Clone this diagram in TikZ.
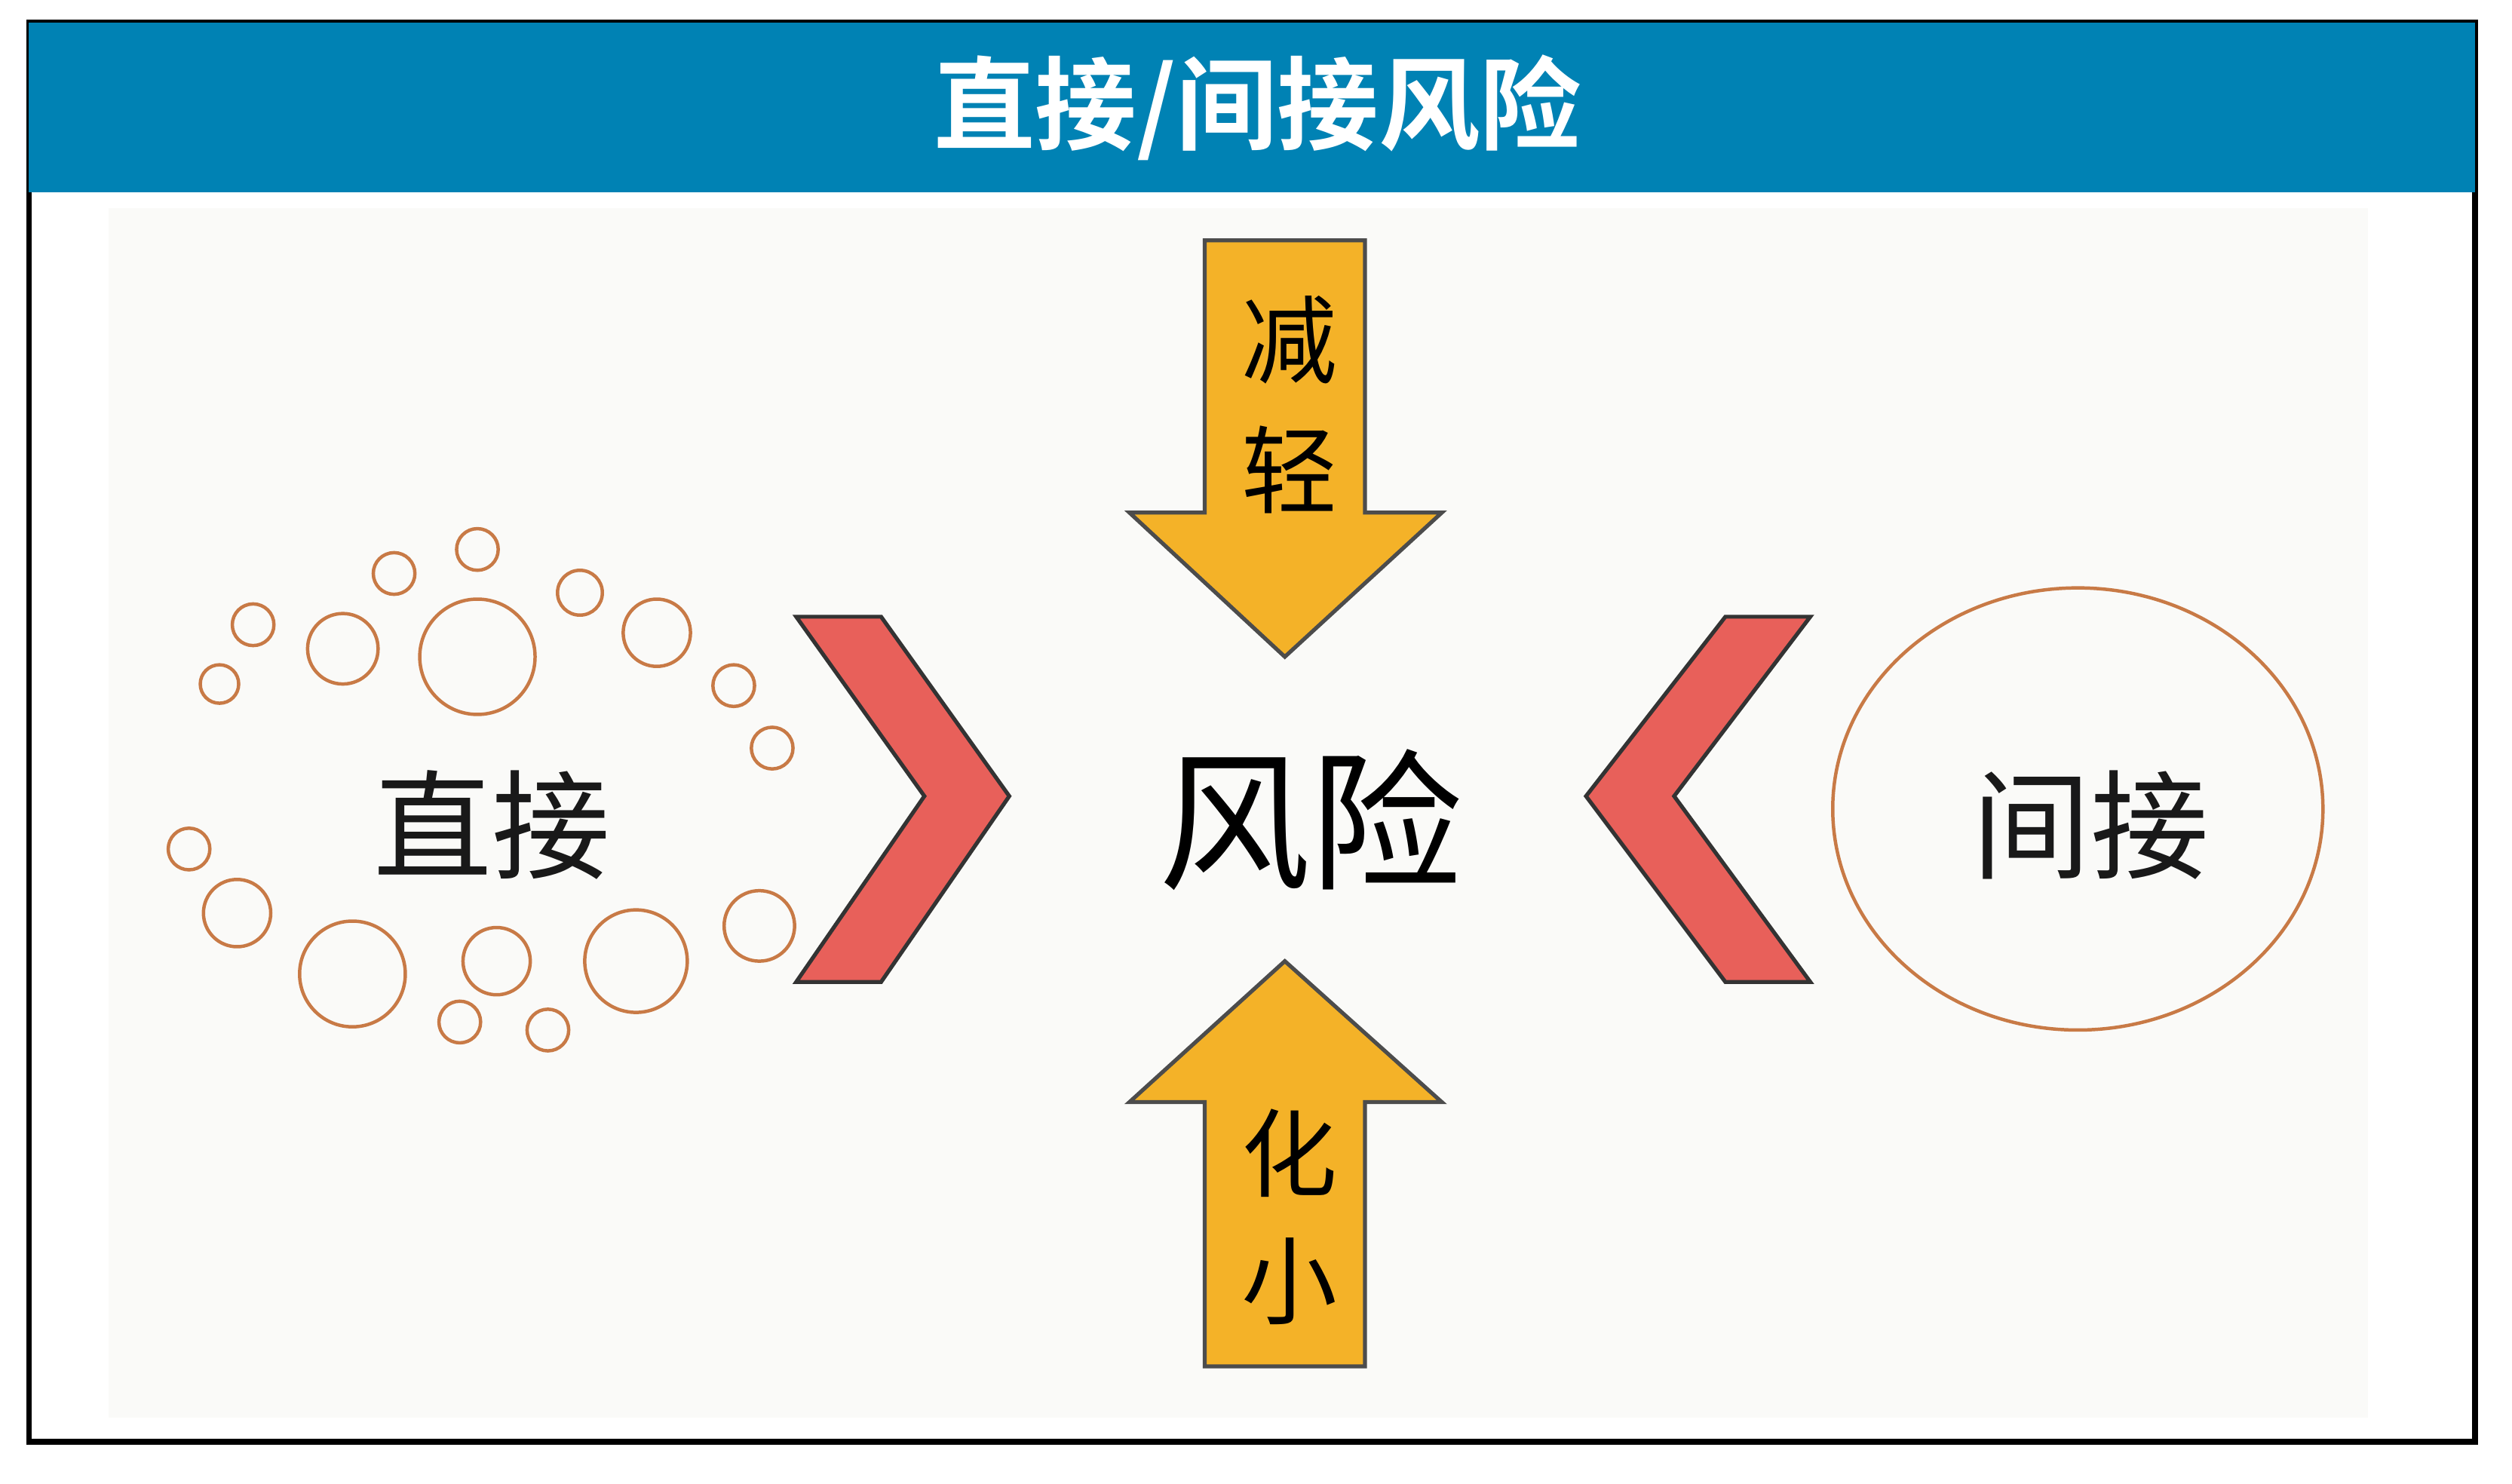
\documentclass[tikz,border=0pt]{standalone}
\usepackage{fontspec}
\newfontfamily\cjk{Noto Sans CJK SC}
\newfontfamily\cjkb{Noto Sans CJK SC Bold}
\definecolor{headblue}{RGB}{0,130,180}
\definecolor{arrowgold}{RGB}{244,178,40}
\definecolor{chevred}{RGB}{232,96,90}
\definecolor{ringbrown}{RGB}{200,122,70}
\definecolor{paper}{RGB}{250,250,248}
\tikzset{
  goldarrow/.style={fill=arrowgold, draw=black!70, line width=0.7pt},
  chevron/.style={fill=chevred, draw=black!80, line width=0.7pt},
  ring/.style={draw=ringbrown, line width=0.6pt},
  armtext/.style={font=\cjk\fontsize{17}{17}\selectfont, text=black},
  sidetext/.style={font=\cjk\fontsize{21}{21}\selectfont, text=black!90}
}
\begin{document}
\begin{tikzpicture}[x={(0.01cm,0)}, y={(0,-0.01cm)}]

\useasboundingbox (0,0) rectangle (1568,926.4);
\fill[white] (0,0) rectangle (1568,926.4);

% frame and header
\fill[paper] (68,130) rectangle (1478,885);
\draw[line width=1pt] (18,14) rectangle (1545,900);
\fill[headblue] (18,14) rectangle (1545,120);
\node[font=\cjkb\fontsize{18}{18}\selectfont, text=white] (title) at (785,67) {直接/间接风险};

% arrows
\draw[goldarrow] (752,150) -- (852,150) -- (852,320) -- (900,320) -- (802,410)
  -- (705,320) -- (752,320) -- cycle;
\draw[goldarrow] (752,853) -- (852,853) -- (852,688) -- (900,688) -- (802,600)
  -- (705,688) -- (752,688) -- cycle;
\node[armtext] (jian) at (805,212) {减};
\node[armtext] (qing) at (805,293) {轻};
\node[armtext] (hua) at (805,720) {化};
\node[armtext] (xiao) at (805,800) {小};

% chevrons
\draw[chevron] (497,385) -- (550,385) -- (630,497) -- (550,613) -- (497,613) -- (577,497) -- cycle;
\draw[chevron] (1130,385) -- (1077,385) -- (990,497) -- (1077,613) -- (1130,613) -- (1045,497) -- cycle;

% labels
\node[font=\cjk\fontsize{27}{27}\selectfont] (risk) at (818,512) {风险};
\node[sidetext] (direct) at (307,515) {直接};
\node[sidetext] (indirect) at (1305,515) {间接};

% rings
\draw[ring] (1297,505) ellipse[x radius=153, y radius=138];
\foreach \cx/\cy/\r in {298/410/36, 214/405/22, 158/390/13, 137/427/12, 246/358/13,
  298/343/13, 362/370/14, 410/395/21, 458/428/13, 482/467/13, 118/530/13,
  148/570/21, 220/608/33, 310/600/21, 287/638/13, 342/643/13, 397/600/32, 474/578/22}
  \draw[ring] (\cx,\cy) circle[radius=\r];

\end{tikzpicture}
\end{document}
